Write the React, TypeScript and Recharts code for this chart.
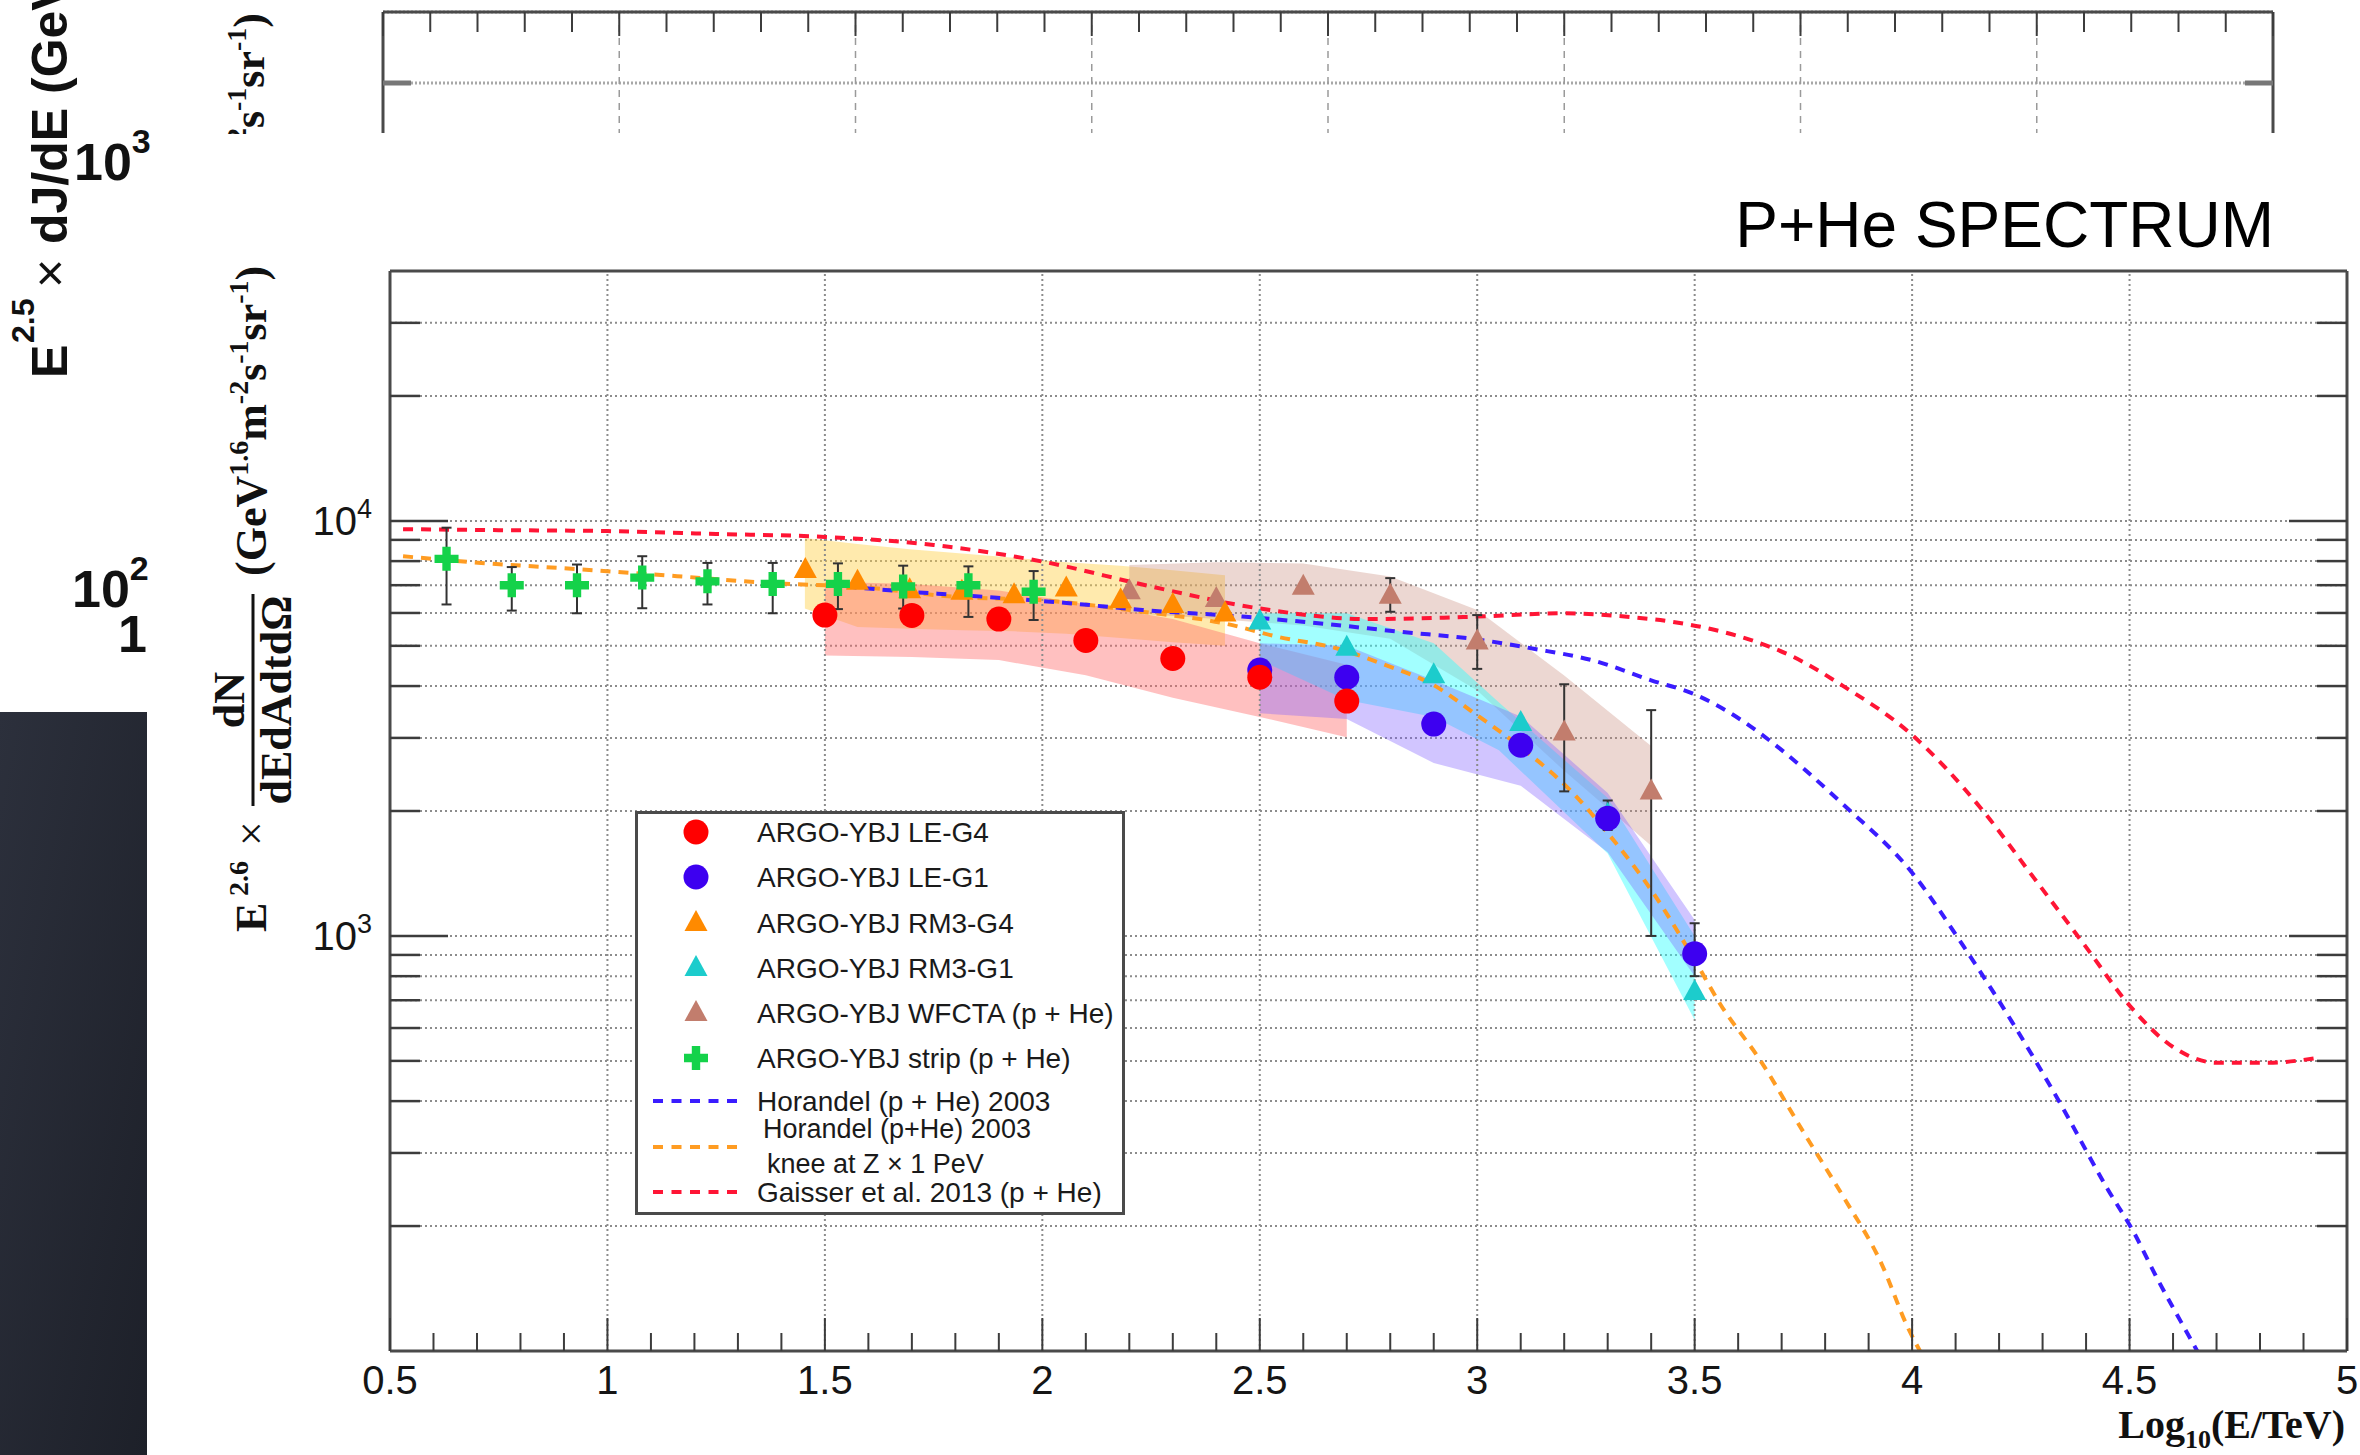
import React from 'react';
import {
  ComposedChart,
  Line,
  Area,
  Scatter,
  XAxis,
  YAxis,
  CartesianGrid,
  ReferenceLine,
  ErrorBar,
  Legend,
} from 'recharts';

// ---------------- axes / tick labels ----------------
const X_DOMAIN = [0.5, 5];
const X_MAJOR = [0.5, 1, 1.5, 2, 2.5, 3, 3.5, 4, 4.5, 5];
const X_MAJOR_LABELS = ['0.5', '1', '1.5', '2', '2.5', '3', '3.5', '4', '4.5', '5'];
const Y_DOMAIN = [100, 40000];
const Y_DECADES = [100, 1000, 10000];
const Y_LABEL_VALUES = [1000, 10000];
const Y_LABEL_EXPONENTS = ['3', '4'];

const UPPER_X_DOMAIN = [0, 8];
const UPPER_X_MAJOR = [0, 1, 2, 3, 4, 5, 6, 7, 8];
const UPPER_Y_DOMAIN = [0, 2];
const UPPER_Y_GRID = [1];

// ---------------- data points ----------------
const STRIP_X = [0.63, 0.78, 0.93, 1.08, 1.23, 1.38, 1.53, 1.68, 1.83, 1.98];
const STRIP_Y = [8100, 7000, 7000, 7300, 7150, 7050, 7050, 6950, 7000, 6750];
const STRIP_LO = [6290, 6080, 5990, 6160, 6290, 5990, 6130, 6150, 5870, 5770];
const STRIP_HI = [9630, 7740, 7850, 8220, 7920, 7920, 7900, 7800, 7770, 7570];

const LEG4_X = [1.5, 1.7, 1.9, 2.1, 2.3, 2.5, 2.7];
const LEG4_Y = [5930, 5920, 5800, 5150, 4660, 4200, 3680];

const LEG1_X = [2.5, 2.7, 2.9, 3.1, 3.3, 3.5];
const LEG1_Y = [4370, 4200, 3240, 2880, 1920, 906];
const LEG1_LO = [4370, 4200, 3240, 2880, 1800, 800];
const LEG1_HI = [4370, 4200, 3240, 2880, 2120, 1073];

const RM3G4_X = [1.455, 1.575, 1.695, 1.815, 1.935, 2.055, 2.18, 2.3, 2.42];
const RM3G4_Y = [7620, 7130, 6810, 6750, 6620, 6870, 6440, 6270, 5980];

const RM3G1_X = [2.5, 2.7, 2.9, 3.1, 3.3, 3.5];
const RM3G1_Y = [5720, 4950, 4250, 3260, 1960, 733];

const WFCTA_X = [2.2, 2.4, 2.6, 2.8, 3.0, 3.2, 3.4];
const WFCTA_Y = [6770, 6480, 6940, 6600, 5120, 3090, 2230];
const WFCTA_LO = [6770, 6480, 6940, 6040, 4400, 2230, 1000];
const WFCTA_HI = [6770, 6480, 6940, 7280, 5930, 4040, 3500];

// ---------------- systematic bands ----------------
const RM3G4_BAND_X = [1.454, 1.575, 1.695, 1.815, 1.935, 2.055, 2.18, 2.3, 2.42];
const RM3G4_BAND_LO = [6150, 5550, 5500, 5450, 5420, 5350, 5220, 5100, 5000];
const RM3G4_BAND_HI = [9090, 8800, 8550, 8350, 8150, 7950, 7800, 7600, 7400];

const LEG4_BAND_X = [1.5, 1.7, 1.9, 2.1, 2.3, 2.5, 2.7];
const LEG4_BAND_LO = [4740, 4700, 4620, 4250, 3750, 3370, 3010];
const LEG4_BAND_HI = [7130, 7050, 6800, 6300, 5800, 5070, 4500];

const WFCTA_BAND_X = [2.2, 2.4, 2.6, 2.8, 3.0, 3.2, 3.4];
const WFCTA_BAND_LO = [6000, 5800, 5600, 5200, 3900, 2500, 1650];
const WFCTA_BAND_HI = [7830, 7950, 7900, 7350, 6100, 4240, 2870];

const RM3G1_BAND_X = [2.5, 2.7, 2.9, 3.05, 3.3, 3.5];
const RM3G1_BAND_LO = [4620, 3700, 3370, 2800, 1580, 627];
const RM3G1_BAND_HI = [5990, 5990, 5070, 3650, 2150, 1000];

const LEG1_BAND_X = [2.5, 2.7, 2.9, 3.1, 3.3, 3.5];
const LEG1_BAND_LO = [3440, 3330, 2610, 2300, 1590, 800];
const LEG1_BAND_HI = [5070, 5000, 4130, 3380, 2210, 1093];

// ---------------- model curves ----------------
const GAISSER_X = [0.53, 0.75, 1.0, 1.25, 1.5, 1.75, 2.0, 2.25, 2.5, 2.75, 3.0, 3.2, 3.35, 3.45, 3.54, 3.63, 3.72, 3.84, 4.0, 4.16, 4.28, 4.4, 4.5, 4.6, 4.7, 4.82, 4.93];
const GAISSER_Y = [9550, 9500, 9450, 9300, 9150, 8750, 7980, 6950, 6150, 5800, 5880, 5990, 5870, 5710, 5480, 5160, 4740, 4010, 3050, 2020, 1380, 940, 680, 540, 495, 495, 508];

const HORANDEL_X = [1.55, 1.6, 1.87, 2.05, 2.23, 2.46, 2.64, 2.82, 3.0, 3.13, 3.27, 3.4, 3.5, 3.63, 3.67, 3.84, 4.0, 4.12, 4.23, 4.34, 4.45, 4.51, 4.56, 4.64, 4.68];
const HORANDEL_Y = [6950, 6870, 6560, 6350, 6100, 5880, 5660, 5410, 5180, 4920, 4600, 4130, 3820, 3190, 2970, 2080, 1420, 938, 620, 396, 245, 193, 152, 107, 90];

const KNEE_X = [0.53, 0.71, 0.94, 1.16, 1.38, 1.58, 1.8, 2.0, 2.23, 2.42, 2.54, 2.68, 2.78, 2.9, 3.0, 3.1, 3.22, 3.3, 3.41, 3.5, 3.56, 3.65, 3.75, 3.84, 3.93, 3.99, 4.03];
const KNEE_Y = [8220, 7920, 7640, 7360, 7080, 6930, 6560, 6440, 6040, 5660, 5260, 4920, 4530, 4020, 3400, 2850, 2210, 1770, 1245, 875, 682, 503, 337, 237, 162, 114, 95];

// ---------------- styling ----------------
const FONT_SANS = '"Liberation Sans", Arial, Helvetica, sans-serif';
const FONT_SERIF = '"Liberation Serif", "Times New Roman", Times, serif';
const FRAME = '#4a4a4a';
const TICK = '#3c3c3c';
const GRID = '#8c8c8c';

const C_RED = '#ff0000';
const C_BLUE = '#3d00f0';
const C_ORANGE = '#ff8a00';
const C_CYAN = '#1ccccc';
const C_BROWN = '#c27d6d';
const C_GREEN = '#14d24a';
const L_GAISSER = '#ff1535';
const L_HORANDEL = '#3a1cff';
const L_KNEE = '#ff9c22';

// ---------------- helpers ----------------
const pts = (xs: number[], ys: number[]) => xs.map((x, i) => ({ x, y: ys[i] }));
const errPts = (xs: number[], ys: number[], lo?: number[], hi?: number[]) =>
  xs.map((x, i) => ({ x, y: ys[i], val: ys[i], lo: lo ? lo[i] : ys[i], hi: hi ? hi[i] : ys[i] }));
const band = (xs: number[], lo: number[], hi: number[]) => xs.map((x, i) => ({ x, lo: lo[i], hi: hi[i] }));
const bandKey = (d: any) => [d.lo, d.hi];
const errKey = (d: any) => {
  const p = d && d.payload && d.payload.val !== undefined ? d.payload : d;
  if (p.lo === p.val && p.hi === p.val) return null;
  return [p.val - p.lo, p.hi - p.val];
};

const subdivide = (majors: number[], n: number) => {
  const out: number[] = [];
  for (let i = 0; i < majors.length - 1; i++) {
    for (let k = 0; k < n; k++) out.push(+(majors[i] + ((majors[i + 1] - majors[i]) * k) / n).toFixed(4));
  }
  out.push(majors[majors.length - 1]);
  return out;
};
const X_TICKS = subdivide(X_MAJOR, 5);
const UPPER_X_TICKS = subdivide(UPPER_X_MAJOR, 5);
const UPPER_ANCHORS = UPPER_X_DOMAIN.map((x) => ({ x }));
const Y_TICKS: number[] = [];
Y_DECADES.forEach((d) => {
  for (let m = 1; m <= 9; m++) {
    const v = d * m;
    if (v > Y_DOMAIN[0] && v < Y_DOMAIN[1]) Y_TICKS.push(v);
  }
});
const isIn = (arr: number[], v: number) => arr.some((m) => Math.abs(m - v) < 1e-6);

// ---------------- marker shapes ----------------
const triPath = (cx: number, cy: number) => `M${cx},${cy - 13} L${cx + 11.5},${cy + 8} L${cx - 11.5},${cy + 8} Z`;
const crossPath = (cx: number, cy: number) => {
  const a = 4.2;
  const b = 12;
  return `M${cx - a},${cy - b} H${cx + a} V${cy - a} H${cx + b} V${cy + a} H${cx + a} V${cy + b} H${cx - a} V${cy + a} H${cx - b} V${cy - a} H${cx - a} Z`;
};
const drawMarker = (kind: string, color: string, cx: number, cy: number) => {
  if (kind === 'circle') return <circle cx={cx} cy={cy} r={12.5} fill={color} />;
  if (kind === 'triangle') return <path d={triPath(cx, cy)} fill={color} />;
  return <path d={crossPath(cx, cy)} fill={color} />;
};
const shapeOf = (kind: string, color: string) => (p: any) => drawMarker(kind, color, p.cx, p.cy);

// ---------------- ticks (ROOT style, inward) ----------------
const BottomTick = (props: any) => {
  const { x, y, payload } = props;
  const v = payload.value;
  const idx = X_MAJOR.findIndex((m) => Math.abs(m - v) < 1e-6);
  const major = idx >= 0;
  return (
    <g>
      <line x1={x} y1={y} x2={x} y2={y - (major ? 33 : 18)} stroke={TICK} strokeWidth={2} />
      {major && (
        <text x={x} y={y + 43} textAnchor="middle" fontFamily={FONT_SANS} fontSize={40} fill="#151515">
          {X_MAJOR_LABELS[idx]}
        </text>
      )}
    </g>
  );
};
const TopTick = (props: any) => {
  const { x, y, payload } = props;
  const major = isIn(X_MAJOR, payload.value);
  return <line x1={x} y1={y} x2={x} y2={y + (major ? 33 : 18)} stroke={TICK} strokeWidth={2} />;
};
const LeftTick = (props: any) => {
  const { x, y, payload } = props;
  const v = payload.value;
  const decade = isIn(Y_DECADES, v);
  const li = Y_LABEL_VALUES.indexOf(v);
  return (
    <g>
      <line x1={x} y1={y} x2={x + (decade ? 58 : 30)} y2={y} stroke={TICK} strokeWidth={2.5} />
      {li >= 0 && (
        <text x={x - 18} y={y + 14} textAnchor="end" fontFamily={FONT_SANS} fontSize={40} fill="#151515">
          10
          <tspan dy={-17} fontSize={27}>
            {Y_LABEL_EXPONENTS[li]}
          </tspan>
        </text>
      )}
    </g>
  );
};
const RightTick = (props: any) => {
  const { x, y, payload } = props;
  const decade = isIn(Y_DECADES, payload.value);
  return <line x1={x} y1={y} x2={x - (decade ? 58 : 30)} y2={y} stroke={TICK} strokeWidth={2.5} />;
};

const UpperTopTick = (props: any) => {
  const { x, y, payload } = props;
  const major = isIn(UPPER_X_MAJOR, payload.value);
  return <line x1={x} y1={y} x2={x} y2={y + (major ? 24 : 20)} stroke={TICK} strokeWidth={2} />;
};
const UpperLeftTick = (props: any) => {
  const { x, y } = props;
  return <line x1={x} y1={y} x2={x + 28} y2={y} stroke="#777" strokeWidth={5} />;
};
const UpperRightTick = (props: any) => {
  const { x, y } = props;
  return <line x1={x} y1={y} x2={x - 28} y2={y} stroke="#777" strokeWidth={5} />;
};

// ---------------- legend ----------------
const LEGEND_ITEMS = [
  { kind: 'circle', color: C_RED, lines: ['ARGO-YBJ LE-G4'] },
  { kind: 'circle', color: C_BLUE, lines: ['ARGO-YBJ LE-G1'] },
  { kind: 'triangle', color: C_ORANGE, lines: ['ARGO-YBJ RM3-G4'] },
  { kind: 'triangle', color: C_CYAN, lines: ['ARGO-YBJ RM3-G1'] },
  { kind: 'triangle', color: C_BROWN, lines: ['ARGO-YBJ WFCTA (p + He)'] },
  { kind: 'cross', color: C_GREEN, lines: ['ARGO-YBJ strip (p + He)'] },
  { kind: 'line', color: L_HORANDEL, lines: ['Horandel (p + He) 2003'] },
  { kind: 'line', color: L_KNEE, lines: ['Horandel (p+He) 2003', 'knee at Z \u00d7 1 PeV'] },
  { kind: 'line', color: L_GAISSER, lines: ['Gaisser et al. 2013 (p + He)'] },
];
const LEGEND_ROW_Y = [21, 66, 112, 157, 202, 247, 290, 336, 381];

const LegendBox = () => (
  <svg width={490} height={404} style={{ display: 'block' }}>
    <rect x={1.5} y={1.5} width={487} height={401} fill="#ffffff" stroke={FRAME} strokeWidth={3} />
    {LEGEND_ITEMS.map((it, i) => {
      const cy = LEGEND_ROW_Y[i];
      return (
        <g key={i}>
          {it.kind === 'line' ? (
            <line x1={18} y1={cy} x2={104} y2={cy} stroke={it.color} strokeWidth={4} strokeDasharray="10 8.5" />
          ) : (
            drawMarker(it.kind, it.color, 61, cy)
          )}
          {it.lines.length === 1 ? (
            <text x={122} y={cy + 10} fontFamily={FONT_SANS} fontSize={28} fill="#1a1a1a">
              {it.lines[0]}
            </text>
          ) : (
            it.lines.map((t, k) => (
              <text key={k} x={k === 0 ? 128 : 132} y={cy - 9 + k * 35} fontFamily={FONT_SANS} fontSize={27} fill="#1a1a1a">
                {t}
              </text>
            ))
          )}
        </g>
      );
    })}
  </svg>
);

// ---------------- decorations (texts, panel) ----------------
const SUP = 28;
const UnitsText = (props: any) => (
  <text {...props}>
    (GeV
    <tspan dy={-18} fontSize={SUP}>1.6</tspan>
    <tspan dy={18}>m</tspan>
    <tspan dy={-18} fontSize={SUP}>-2</tspan>
    <tspan dy={18}>s</tspan>
    <tspan dy={-18} fontSize={SUP}>-1</tspan>
    <tspan dy={18}>sr</tspan>
    <tspan dy={-18} fontSize={SUP}>-1</tspan>
    <tspan dy={18}>)</tspan>
  </text>
);

const Decorations = () => (
  <svg width={2360} height={1455} style={{ position: 'absolute', left: 0, top: 0 }}>
    <defs>
      <linearGradient id="darkPanel" x1="0" y1="0" x2="1" y2="1">
        <stop offset="0" stopColor="#2c303c" />
        <stop offset="1" stopColor="#1d2029" />
      </linearGradient>
      <clipPath id="upperCut">
        <rect x={0} y={0} width={2360} height={134} />
      </clipPath>
    </defs>
    <rect x={0} y={712} width={147} height={743} fill="url(#darkPanel)" />

    {/* left slide text */}
    <g transform="translate(67 378) rotate(-90)" fontFamily={FONT_SANS} fontWeight="bold" fill="#111">
      <text x={0} y={0} fontSize={50}>E</text>
      <text x={35} y={-33} fontSize={32}>2.5</text>
      <text x={90} y={0} fontSize={50} fontWeight="normal">{'\u00d7'}</text>
      <text x={134} y={0} fontSize={50}>dJ/dE (GeV</text>
    </g>
    <g fontFamily={FONT_SANS} fontWeight="bold" fill="#111">
      <text x={74} y={180} fontSize={52}>
        10<tspan dy={-27} fontSize={34}>3</tspan>
      </text>
      <text x={72} y={607} fontSize={52}>
        10<tspan dy={-27} fontSize={34}>2</tspan>
      </text>
      <text x={147} y={652} fontSize={52} textAnchor="end">1</text>
    </g>

    {/* tail of the upper plot's axis title */}
    <g clipPath="url(#upperCut)">
      <g transform="translate(264 13) rotate(-90)" fontFamily={FONT_SERIF} fontWeight="bold" fontSize={44} fill="#111">
        <UnitsText x={0} y={0} textAnchor="end" />
      </g>
    </g>

    {/* main y axis title */}
    <g transform="translate(266 932) rotate(-90)" fontFamily={FONT_SERIF} fontWeight="bold" fontSize={44} fill="#111">
      <text x={0} y={0}>E</text>
      <text x={36} y={-18} fontSize={SUP}>2.6</text>
      <text x={86} y={0} fontWeight="normal">{'\u00d7'}</text>
      <text x={232} y={-22} textAnchor="middle">dN</text>
      <line x1={126} y1={-13} x2={338} y2={-13} stroke="#111" strokeWidth={3} />
      <text x={232} y={25} textAnchor="middle">dEdAdtd{'\u03a9'}</text>
      <UnitsText x={356} y={0} />
    </g>

    {/* title */}
    <text x={2274} y={247} textAnchor="end" fontFamily={FONT_SANS} fontSize={64} fill="#000">
      P+He SPECTRUM
    </text>

    {/* x axis title */}
    <text x={2345} y={1438} textAnchor="end" fontFamily={FONT_SERIF} fontWeight="bold" fontSize={40} fill="#111">
      Log<tspan dy={10} fontSize={26}>10</tspan>
      <tspan dy={-10}>(E/TeV)</tspan>
    </text>
  </svg>
);

// ---------------- upper (cropped) plot frame ----------------
const UpperPlot = () => (
  <div style={{ position: 'absolute', left: 0, top: 0, width: 2360, height: 133, overflow: 'hidden' }}>
    <ComposedChart width={2360} height={154} data={UPPER_ANCHORS} margin={{ top: 11, right: 86, bottom: 0, left: 382 }}>
      <XAxis
        dataKey="x"
        type="number"
        orientation="top"
        domain={UPPER_X_DOMAIN}
        allowDataOverflow
        ticks={UPPER_X_TICKS}
        interval={0}
        height={1}
        tickSize={0}
        tickMargin={0}
        tickLine={false}
        tick={UpperTopTick}
        axisLine={{ stroke: FRAME, strokeWidth: 3 }}
      />
      <YAxis
        type="number"
        domain={UPPER_Y_DOMAIN}
        allowDataOverflow
        ticks={UPPER_Y_GRID}
        width={1}
        tickSize={0}
        tickMargin={0}
        tickLine={false}
        tick={UpperLeftTick}
        axisLine={{ stroke: FRAME, strokeWidth: 3 }}
      />
      <YAxis
        yAxisId="r"
        orientation="right"
        type="number"
        domain={UPPER_Y_DOMAIN}
        allowDataOverflow
        ticks={UPPER_Y_GRID}
        width={1}
        tickSize={0}
        tickMargin={0}
        tickLine={false}
        tick={UpperRightTick}
        axisLine={{ stroke: FRAME, strokeWidth: 3 }}
      />
      <CartesianGrid
        horizontal
        vertical={false}
        stroke="#a8a8a8"
        strokeDasharray="2 2"
        strokeWidth={3}
      />
      {UPPER_X_MAJOR.slice(1, -1).map((v) => (
        <ReferenceLine key={'ux' + v} x={v} stroke="#9a9a9a" strokeDasharray="7 6" strokeWidth={1.5} ifOverflow="visible" />
      ))}
    </ComposedChart>
  </div>
);

// ---------------- main chart ----------------
const lineProps = { type: 'monotone' as const, dataKey: 'y', dot: false, activeDot: false, isAnimationActive: false, strokeWidth: 4, strokeDasharray: '10 8' };
const areaProps = { type: 'linear' as const, dataKey: bandKey, stroke: 'none', dot: false, activeDot: false, isAnimationActive: false };
const errProps = { dataKey: errKey, direction: 'y' as const, width: 5, stroke: '#333', strokeWidth: 2 };

const MainPlot = () => (
  <div style={{ position: 'absolute', left: 0, top: 0 }}>
    <ComposedChart width={2360} height={1455} margin={{ top: 270, right: 12, bottom: 44, left: 330 }}>
      <CartesianGrid horizontal vertical={false} stroke={GRID} strokeDasharray="2 3" strokeWidth={2} />
      {X_MAJOR.slice(1, -1).map((v) => (
        <ReferenceLine key={'gx' + v} x={v} stroke={GRID} strokeDasharray="2 3" strokeWidth={2} />
      ))}
      <XAxis
        dataKey="x"
        type="number"
        domain={X_DOMAIN}
        allowDataOverflow
        ticks={X_TICKS}
        interval={0}
        height={60}
        tickSize={0}
        tickMargin={0}
        tickLine={false}
        tick={BottomTick}
        axisLine={{ stroke: FRAME, strokeWidth: 3 }}
      />
      <XAxis
        xAxisId="top"
        orientation="top"
        type="number"
        domain={X_DOMAIN}
        allowDataOverflow
        ticks={X_TICKS}
        interval={0}
        height={1}
        tickSize={0}
        tickMargin={0}
        tickLine={false}
        tick={TopTick}
        axisLine={{ stroke: FRAME, strokeWidth: 3 }}
      />
      <YAxis
        type="number"
        scale="log"
        domain={Y_DOMAIN}
        allowDataOverflow
        ticks={Y_TICKS}
        interval={0}
        width={60}
        tickSize={0}
        tickMargin={0}
        tickLine={false}
        tick={LeftTick}
        axisLine={{ stroke: FRAME, strokeWidth: 3 }}
      />
      <YAxis
        yAxisId="right"
        orientation="right"
        type="number"
        scale="log"
        domain={Y_DOMAIN}
        allowDataOverflow
        ticks={Y_TICKS}
        interval={0}
        width={1}
        tickSize={0}
        tickMargin={0}
        tickLine={false}
        tick={RightTick}
        axisLine={{ stroke: FRAME, strokeWidth: 3 }}
      />

      {/* systematic bands */}
      <Area {...areaProps} data={band(RM3G4_BAND_X, RM3G4_BAND_LO, RM3G4_BAND_HI)} fill="#ffd04a" fillOpacity={0.45} />
      <Area {...areaProps} data={band(LEG4_BAND_X, LEG4_BAND_LO, LEG4_BAND_HI)} fill="#ff6a6a" fillOpacity={0.42} />
      <Area {...areaProps} data={band(WFCTA_BAND_X, WFCTA_BAND_LO, WFCTA_BAND_HI)} fill="#c88a7c" fillOpacity={0.34} />
      <Area {...areaProps} data={band(RM3G1_BAND_X, RM3G1_BAND_LO, RM3G1_BAND_HI)} fill="#30ffff" fillOpacity={0.45} />
      <Area {...areaProps} data={band(LEG1_BAND_X, LEG1_BAND_LO, LEG1_BAND_HI)} fill="#7f5fff" fillOpacity={0.36} />

      {/* model curves */}
      <Line {...lineProps} data={pts(KNEE_X, KNEE_Y)} stroke={L_KNEE} />
      <Line {...lineProps} data={pts(HORANDEL_X, HORANDEL_Y)} stroke={L_HORANDEL} />
      <Line {...lineProps} data={pts(GAISSER_X, GAISSER_Y)} stroke={L_GAISSER} />

      {/* measurements */}
      <Scatter data={errPts(WFCTA_X, WFCTA_Y, WFCTA_LO, WFCTA_HI)} dataKey="y" shape={shapeOf('triangle', C_BROWN)} isAnimationActive={false}>
        <ErrorBar {...errProps} />
      </Scatter>
      <Scatter data={errPts(RM3G4_X, RM3G4_Y)} dataKey="y" shape={shapeOf('triangle', C_ORANGE)} isAnimationActive={false} />
      <Scatter data={errPts(RM3G1_X, RM3G1_Y)} dataKey="y" shape={shapeOf('triangle', C_CYAN)} isAnimationActive={false} />
      <Scatter data={errPts(LEG1_X, LEG1_Y, LEG1_LO, LEG1_HI)} dataKey="y" shape={shapeOf('circle', C_BLUE)} isAnimationActive={false}>
        <ErrorBar {...errProps} />
      </Scatter>
      <Scatter data={errPts(LEG4_X, LEG4_Y)} dataKey="y" shape={shapeOf('circle', C_RED)} isAnimationActive={false} />
      <Scatter data={errPts(STRIP_X, STRIP_Y, STRIP_LO, STRIP_HI)} dataKey="y" shape={shapeOf('cross', C_GREEN)} isAnimationActive={false}>
        <ErrorBar {...errProps} />
      </Scatter>

      <Legend
        layout="horizontal"
        verticalAlign="middle"
        align="center"
        content={() => <LegendBox />}
        wrapperStyle={{ left: 635, top: 811, width: 490, height: 404 }}
      />
    </ComposedChart>
  </div>
);

export default function App() {
  return (
    <div style={{ position: 'absolute', left: 0, top: 0, width: 2360, height: 1455, background: '#ffffff', overflow: 'hidden' }}>
      <Decorations />
      <UpperPlot />
      <MainPlot />
    </div>
  );
}
